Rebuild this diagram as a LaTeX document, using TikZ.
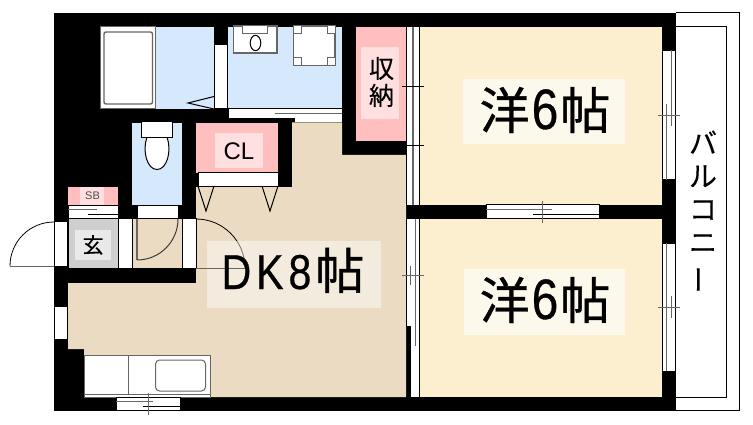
\documentclass[tikz,border=0pt]{standalone}
\usepackage{fontspec}
\setmainfont{Liberation Sans}
\newfontfamily\jp[FakeBold=0.3]{Noto Sans CJK JP}
\newfontfamily\jpheavy[FakeBold=0.8]{Noto Sans CJK JP}
\newfontfamily\narrowlatin[FakeStretch=0.84,LetterSpace=10,FakeBold=0.5]{Liberation Sans}
\newcommand{\fsize}[1]{\fontsize{#1}{#1}\selectfont}
\newcommand{\roomsix}{{\jpheavy\fsize{50}洋}\hspace{2pt}{\narrowlatin\fsize{57}6}\hspace{2pt}{\jpheavy\fsize{50}帖}}
\definecolor{bluefloor}{HTML}{D6E8FB}
\definecolor{tanfloor}{HTML}{EADBC2}
\definecolor{creamfloor}{HTML}{FCEFD0}
\definecolor{pinkfloor}{HTML}{FFBFBF}
\definecolor{greyfloor}{HTML}{CFCFCF}
\definecolor{fixture}{HTML}{666666}
\begin{document}
\begin{tikzpicture}[x=1pt,y=-1pt,line width=1pt,
    gap/.style={fill=white,draw=black},
    fix/.style={fill=white,draw=fixture,line width=1.4pt},
    rail/.style={draw=fixture},
    plate/.style={fill=white,fill opacity=.5},
    label/.style={inner sep=0pt,text=black}]
    \useasboundingbox (0,0) rectangle (753,425);
    % outer walls and balcony
    \fill (54,13) rectangle (676,411);
    \draw (676,13)--(739.5,13)--(739.5,410.5)--(676,410.5);
    \draw (676,26.5)--(726.5,26.5)--(726.5,397)--(676,397);
    % bath and wash room
    \fill[bluefloor] (155,27) rectangle (214,109);
    \fill[bluefloor] (228,27) rectangle (342,109);
    \fill[white,draw=fixture] (100.5,27) rectangle (155.5,109);
    \draw[fix,rounded corners=2pt] (104,32) rectangle (152.5,104);
    \fill[gap] (214.5,45) rectangle (227.5,109);
    \draw (214,96.5)--(188,103)--(214,109);
    \draw[fix] (233.5,26) rectangle (277,53);
    \draw[fix,line width=1pt] (242.5,26) rectangle (267.5,33.5);
    \draw (255.5,43) ellipse (5.3 and 7.7);
    \draw[fix] (293.5,26) rectangle (335,65.5);
    \foreach \cx/\cy in {293.5/26,327/26,293.5/58,327/58}
        \draw[fix,line width=1pt] (\cx,\cy) rectangle +(8,7.5);
    \fill[gap] (228,109) rectangle (342,122.5);
    \draw[rail] (275,113.5)--(342,113.5);
    \fill (228,118.5) rectangle (294.5,123);
    % kitchen floor
    \fill[tanfloor] (292,122.5)--(342,122.5)--(342,155)--(406,155)--(406,397)--(210,397)--(84,397)
        --(84,349)--(68,349)--(68,283)--(196,283)--(196,187)--(292,187)--cycle;
    \fill[pinkfloor] (196,123) rectangle (278,173);
    \fill[plate] (215,133.5) rectangle (263,168.5);
    \fill[gap] (198,173) rectangle (278.5,186.5);
    \fill[black] (278,119) rectangle (292,187);
    \draw (198,186)--(206,211)--(214,186);
    \draw (262,186)--(270,211)--(278,186);
    % storage
    \fill[pinkfloor] (356,27) rectangle (406,141);
    \fill[plate] (361,47) rectangle (399,119);
    % toilet
    \fill[bluefloor] (132,123) rectangle (182,205);
    \fill[gap] (137,206) rectangle (178,218.5);
    \draw[fill=white] (147,137) .. controls (142,151) and (147,169.5) .. (157,169.5) .. controls (167,169.5) and (172,151) .. (167,137);
    \draw[fill=white] (141.5,122) rectangle (172.5,137.5);
    \fill[tanfloor,draw=black] (132,218.5) rectangle (182,268);
    \draw[rail,line width=1.4pt] (137,219)--(137,260);
    \draw[fixture!60!black] (137,260) arc[start angle=90,end angle=0,radius=41];
    % entrance
    \fill[greyfloor,draw=black] (68,218.5) rectangle (118,268);
    \fill[white,opacity=.55] (75,230) rectangle (110.5,260);
    \fill[gap] (118,218.5) rectangle (132,268);
    \fill[pinkfloor] (68,187) rectangle (118,205);
    \fill[plate] (80,187) rectangle (104,205);
    \fill[gap] (68,205.5) rectangle (118,218.5);
    \draw[rail] (68,209.5)--(97,209.5);
    \draw (88,214.5)--(118,214.5);
    \fill[gap] (54.5,222) rectangle (67.5,266);
    \draw[line width=.8pt] (54,222) arc[start angle=-90,end angle=-180,radius=44];
    \draw[rail] (10,266)--(54,266);
    \fill[gap] (54.5,306) rectangle (67.5,339);
    % door to the kitchen
    \fill[gap] (182.5,218.5) rectangle (196,268);
    \draw[line width=.8pt] (196,219) arc[start angle=-90,end angle=0,radius=49];
    % kitchen counter
    \draw[fill=white,draw=fixture] (84,355.5) rectangle (210,397);
    \draw[rail] (128.5,355.5)--(128.5,394) (84,394)--(210,394);
    \draw[rail,rounded corners=4pt] (155.5,360) rectangle (205.5,391);
    \fill[gap] (116,397) rectangle (180,410.5);
    \draw[rail] (116,401)--(153,401);
    \draw (143,406.5)--(180,406.5);
    \draw[rail] (148,393)--(148,415);
    % bedrooms
    \fill[creamfloor] (420,27) rectangle (662,205);
    \fill[creamfloor] (420,219) rectangle (662,397);
    \fill[white,fill opacity=.6] (463,79) rectangle (625,144);
    \fill[white,fill opacity=.6] (464,269) rectangle (625,335);
    \fill[white,fill opacity=.45] (207,241) rectangle (381,308);
    % sliding doors
    \fill[white] (406.5,27) rectangle (419.5,205);
    \draw (406.5,27)--(406.5,205) (419.5,27)--(419.5,205);
    \draw[rail,line width=2pt] (413,27)--(413,205);
    \draw (402,86.5)--(424,86.5) (406,145.5)--(424,145.5);
    \fill[white] (406.5,219) rectangle (419.5,397);
    \draw (406.5,219)--(406.5,326) (419.5,219)--(419.5,397);
    \fill (406.5,326) rectangle (410.5,397);
    \draw[rail] (415.5,219)--(415.5,346);
    \draw[rail] (402,275.5)--(424,275.5) (410.5,266)--(410.5,285);
    \fill[gap] (486,205) rectangle (599,218.5);
    \draw[rail] (486,209.5)--(552,209.5);
    \draw (533,214.5)--(599,214.5);
    \draw[rail] (542.5,201)--(542.5,223);
    \fill[gap] (662.5,50.5) rectangle (675.5,180);
    \draw[rail] (671,50.5)--(671,126.5) (666.5,104.5)--(666.5,180);
    \draw[rail] (658,115.5)--(680,115.5);
    \fill[gap] (662.5,243) rectangle (675.5,371);
    \draw[rail] (666.5,243)--(666.5,371) (671,296)--(671,318);
    \draw[rail] (658,307)--(680,307);
    % door leaf over the floor
    \draw[rail] (196,268)--(245,268);
    % labels
    \node[label] (bedroomone) at (545,110) {\roomsix};
    \node[label] (bedroomtwo) at (545,300) {\roomsix};
    \node[label,anchor=base west] (dining) at (221,289) {{\narrowlatin\fsize{49}DK8}\hspace{4pt}{\jpheavy\fsize{49}帖}};
    \node[label] (closet) at (239,151) {\fsize{24}CL};
    \node[label,text=black!70] (shoebox) at (92.5,196) {\fsize{11}SB};
    \node[label] (entrance) at (93,245) {\jp\fsize{21}玄};
    \node[label,align=center,font=\jp\fontsize{25}{27}\selectfont] (storage) at (381.5,82) {収\\納};
    \node[label,align=center,font=\jp\fontsize{28}{33}\selectfont] (balcony) at (703,212) {バ\\ル\\コ\\ニ\\\rotatebox[origin=c]{90}{ー}};
\end{tikzpicture}
\end{document}
